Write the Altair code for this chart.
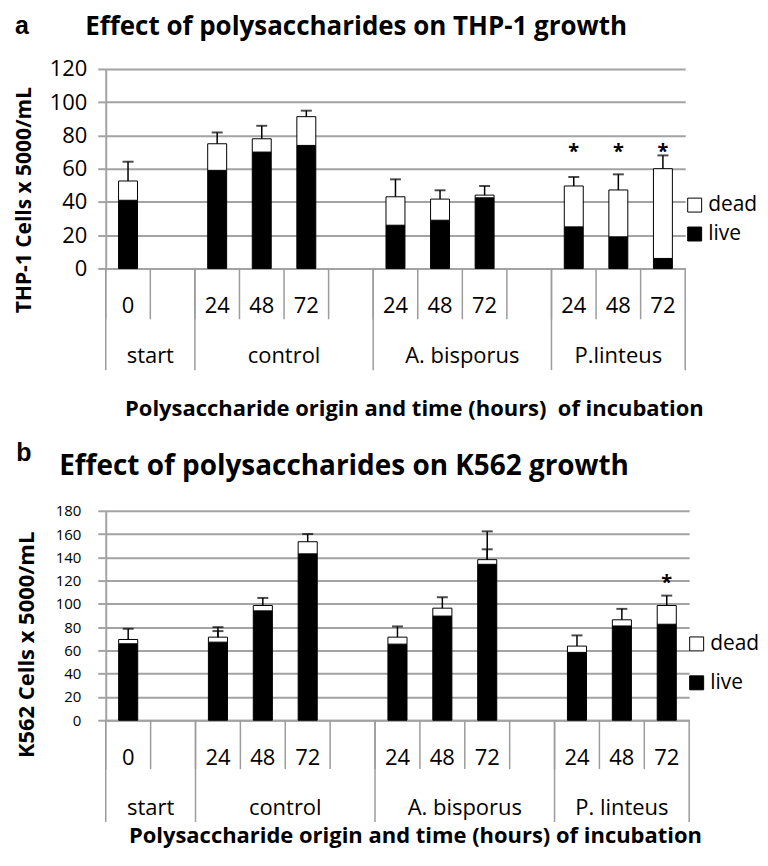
import altair as alt
import pandas as pd

# ---------------- Panel a : THP-1 ----------------
a_letter = "a"
a_title = "Effect of polysaccharides on THP-1 growth"
a_ytitle = "THP-1 Cells x 5000/mL"
a_xtitle = "Polysaccharide origin and time (hours)\u00a0 of incubation"
a_group_order = ["start", "control", "A. bisporus", "P.linteus"]
a_bar_groups = ["start", "control", "control", "control",
                "A. bisporus", "A. bisporus", "A. bisporus",
                "P.linteus", "P.linteus", "P.linteus"]
a_times = ["0", "24", "48", "72", "24", "48", "72", "24", "48", "72"]
a_live = [41, 59, 70, 74, 26, 29, 42.5, 25, 19, 6]
a_total = [52.6, 75, 78, 91.3, 43.1, 41.7, 44.1, 49.6, 47.2, 60]
a_err = [11.6, 6.8, 7.8, 3.6, 10.5, 5.3, 5.5, 5.4, 9.4, 8]
a_live_err = [None, None, None, None, None, None, None, None, None, None]
a_star = [None, None, None, None, None, None, None, 72.8, 72.8, 72.8]
a_yticks = [0, 20, 40, 60, 80, 100, 120]

# ---------------- Panel b : K562 ----------------
b_letter = "b"
b_title = "Effect of polysaccharides on K562 growth"
b_ytitle = "K562 Cells x 5000/mL"
b_xtitle = "Polysaccharide origin and time (hours) of incubation"
b_group_order = ["start", "control", "A. bisporus", "P. linteus"]
b_bar_groups = ["start", "control", "control", "control",
                "A. bisporus", "A. bisporus", "A. bisporus",
                "P. linteus", "P. linteus", "P. linteus"]
b_times = ["0", "24", "48", "72", "24", "48", "72", "24", "48", "72"]
b_live = [65.7, 67.1, 94, 143, 65.4, 89.5, 134, 58.3, 81, 82.5]
b_total = [69.4, 71.4, 98.6, 153.4, 71.4, 96.3, 138, 63.7, 86.3, 98.6]
b_err = [9.2, 8.6, 6.5, 6.6, 9.2, 9.4, 24.3, 9.2, 9.4, 8.5]
b_live_err = [None, 9.5, None, None, None, None, 12.9, None, None, None]
b_star = [None, None, None, None, None, None, None, None, None, 122]
b_yticks = [0, 20, 40, 60, 80, 100, 120, 140, 160, 180]

GRID = "#a3a3a3"
SEP = "#9c9c9c"
FONT = "Open Sans"


def panel(letter, title, ytitle, xtitle, group_order, bar_groups, times, live, total,
          err, live_err, star, yticks, width, height, st):
    # slot structure (categories + empty gap slot after every group but the last)
    domain, group_slots = [], []
    for gi, g in enumerate(group_order):
        slots = [f"{g}|{t}" for g2, t in zip(bar_groups, times) if g2 == g]
        if gi < len(group_order) - 1:
            slots.append(f"{g}|")
        group_slots.append(slots)
        domain += slots

    df = pd.DataFrame({
        "slot": [f"{g}|{t}" for g, t in zip(bar_groups, times)],
        "live": live, "total": total, "err": err,
        "live_err": live_err, "star": star,
    })
    df["err_top"] = df["total"] + df["err"]
    df["live_err_top"] = df["live"] + df["live_err"]

    slots_df = pd.DataFrame({"slot": domain})
    first_df = pd.DataFrame({"slot": [s[0] for s in group_slots]})
    last_df = pd.DataFrame({"slot": [domain[-1]]})
    lab_even, lab_odd = [], []
    for g, s in zip(group_order, group_slots):
        n = len(s)
        if n % 2 == 0:
            lab_even.append({"slot": s[n // 2], "g": g})
        else:
            lab_odd.append({"slot": s[n // 2], "g": g})

    scale = alt.Scale(type="band", domain=domain, paddingInner=0, paddingOuter=0)
    ymax = yticks[-1]
    yscale = alt.Scale(domain=[0, ymax], nice=False)

    xaxis = alt.Axis(
        title=xtitle, titleFont=FONT, titleFontSize=st["xt_size"], titleFontWeight="bold",
        titleColor="black", titleY=st["xt_y"], titleX=st["xt_x"], titleBaseline="middle",
        labelExpr="split(datum.value, '|')[1]", ticks=False, labelAngle=0,
        labelPadding=st["lab_pad"], labelBaseline="middle", labelFont=FONT,
        labelFontSize=st["lab_size"], labelColor="black", labelOverlap=False,
        domainColor=GRID, domainWidth=2, grid=False,
    )
    yaxis = alt.Axis(
        values=yticks, grid=True, gridColor=GRID, gridWidth=2, tickColor=GRID,
        tickSize=8, tickWidth=2, domainColor=GRID, domainWidth=2,
        labelFont=FONT, labelFontSize=st["ylab_size"], labelColor="black",
        labelPadding=st["ylab_pad"],
        title=ytitle, titleFont=FONT, titleFontSize=st["yt_size"], titleFontWeight="bold",
        titleColor="black", titleAngle=270, titleX=st["yt_x"], titleY=st["yt_y"],
        titleAlign="center", titleBaseline="middle",
    )

    def X(bp=None):
        kw = dict(scale=scale, axis=xaxis)
        if bp is not None:
            kw["bandPosition"] = bp
        return alt.X("slot:N", **kw)

    def Y(field):
        return alt.Y(field, scale=yscale, axis=yaxis)

    color = alt.Color(
        "status:N",
        scale=alt.Scale(domain=["dead", "live"], range=["white", "black"]),
        legend=alt.Legend(
            title=None, orient="none", legendX=st["leg_x"], legendY=st["leg_y"],
            symbolType="square", symbolSize=196, symbolStrokeColor="black",
            symbolStrokeWidth=1, labelFont=FONT, labelFontSize=st["leg_size"],
            labelColor="black", rowPadding=st["leg_row"], padding=0, labelOffset=3,
        ),
    )
    bar_w = {"band": 0.425}

    base = alt.Chart(df)
    live_bar = base.transform_calculate(status="'live'").mark_bar(
        stroke="black", strokeWidth=1, width=bar_w).encode(
        x=X(), y=Y("live:Q"), color=color)

    le = base.transform_filter("isValid(datum.live_err)")
    live_err_rule = le.mark_rule(color="black", strokeWidth=1.5).encode(
        x=X(), y=Y("live:Q"), y2="live_err_top:Q")
    live_err_cap = le.mark_tick(color="black", size=11, thickness=2).encode(
        x=X(), y=Y("live_err_top:Q"))

    dead_bar = base.transform_calculate(status="'dead'").mark_bar(
        stroke="black", strokeWidth=1, width=bar_w).encode(
        x=X(), y=Y("live:Q"), y2="total:Q", color=color)

    err_rule = base.mark_rule(color="black", strokeWidth=1.5).encode(
        x=X(), y=Y("total:Q"), y2="err_top:Q")
    err_cap = base.mark_tick(color="black", size=11, thickness=2).encode(
        x=X(), y=Y("err_top:Q"))

    stars = base.transform_filter("isValid(datum.star)").mark_text(
        text="*", font=FONT, fontSize=20, fontWeight="bold", baseline="middle", dy=5,
        color="black").encode(x=X(), y=Y("star:Q"))

    inner_sep = alt.Chart(slots_df).mark_rule(color=SEP, strokeWidth=1.5).encode(
        x=X(0), y=alt.value(height), y2=alt.value(height + st["inner_len"]))
    group_sep = alt.Chart(first_df).mark_rule(color=SEP, strokeWidth=1.5).encode(
        x=X(0), y=alt.value(height), y2=alt.value(height + 102))
    end_sep = alt.Chart(last_df).mark_rule(color=SEP, strokeWidth=1.5).encode(
        x=X(1), y=alt.value(height), y2=alt.value(height + 102))

    gl_kw = dict(font=FONT, fontSize=st["lab_size"], color="black", baseline="middle")
    glab_even = alt.Chart(pd.DataFrame(lab_even)).mark_text(**gl_kw).encode(
        x=X(0), y=alt.value(height + st["grp_dy"]), text="g:N")
    glab_odd = alt.Chart(pd.DataFrame(lab_odd)).mark_text(**gl_kw).encode(
        x=X(0.5), y=alt.value(height + st["grp_dy"]), text="g:N")

    letter_txt = alt.Chart(pd.DataFrame({"t": [letter]})).mark_text(
        font="Liberation Sans", fontSize=25, fontWeight="bold", color="black",
        baseline="alphabetic", align="center").encode(
        x=alt.value(st["let_x"]), y=alt.value(st["let_y"]), text="t:N")
    title_txt = alt.Chart(pd.DataFrame({"t": [title]})).mark_text(
        font=FONT, fontSize=st["title_size"], fontWeight="bold", color="black",
        baseline="alphabetic", align="center").encode(
        x=alt.value(st["title_x"]), y=alt.value(st["title_y"]), text="t:N")

    return alt.layer(
        live_bar, live_err_rule, live_err_cap, dead_bar, err_rule, err_cap, stars,
        inner_sep, group_sep, end_sep, glab_even, glab_odd, letter_txt, title_txt,
    ).properties(width=width, height=height)


st_a = dict(xt_size=22, xt_y=140, xt_x=309, lab_pad=37, lab_size=22, ylab_size=22,
            ylab_pad=11, yt_size=21, yt_x=-81, yt_y=131, leg_x=580, leg_y=126,
            leg_row=7, leg_size=21, inner_len=51, grp_dy=88, let_x=-84, let_y=-35,
            title_x=251, title_y=-34, title_size=26)
st_b = dict(xt_size=22, xt_y=116, xt_x=310, lab_pad=37, lab_size=22, ylab_size=15,
            ylab_pad=17, yt_size=22, yt_x=-79, yt_y=134, leg_x=582, leg_y=123,
            leg_row=17, leg_size=21, inner_len=49, grp_dy=88, let_x=-82, let_y=-50,
            title_x=239, title_y=-36, title_size=28)

pa = panel(a_letter, a_title, a_ytitle, a_xtitle, a_group_order, a_bar_groups, a_times,
           a_live, a_total, a_err, a_live_err, a_star, a_yticks, 581, 200, st_a)
pb = panel(b_letter, b_title, b_ytitle, b_xtitle, b_group_order, b_bar_groups, b_times,
           b_live, b_total, b_err, b_live_err, b_star, b_yticks, 585, 210, st_b)

chart = alt.vconcat(pa, pb, spacing=22).resolve_scale(color="independent").resolve_legend(
    color="independent").configure(
    padding={"left": 6, "top": 5, "right": 0, "bottom": 0}, background="white",
).configure_view(stroke=None)

chart.save("out.html", embed_options={"renderer": "svg", "actions": False})
